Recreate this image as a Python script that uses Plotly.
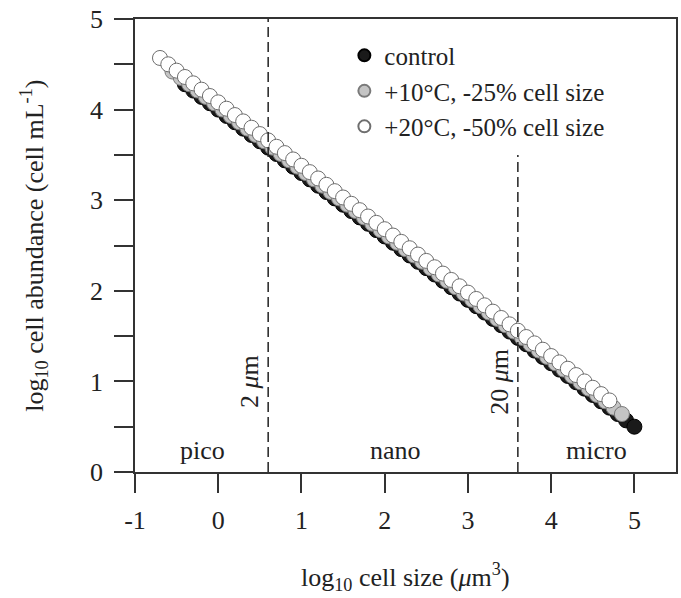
import plotly.graph_objects as go

# ---- data ----
ctrl_x = [-0.4, -0.3, -0.2, -0.1, 0.0, 0.1, 0.2, 0.3, 0.4, 0.5, 0.6, 0.7, 0.8, 0.9, 1.0,
          1.1, 1.2, 1.3, 1.4, 1.5, 1.6, 1.7, 1.8, 1.9, 2.0, 2.1, 2.2, 2.3, 2.4, 2.5,
          2.6, 2.7, 2.8, 2.9, 3.0, 3.1, 3.2, 3.3, 3.4, 3.5, 3.6, 3.7, 3.8, 3.9, 4.0,
          4.1, 4.2, 4.3, 4.4, 4.5, 4.6, 4.7, 4.8, 4.9, 5.0]
ctrl_y = [4.28, 4.21, 4.14, 4.07, 4.00, 3.93, 3.86, 3.79, 3.72, 3.65, 3.58, 3.51, 3.44, 3.37, 3.30,
          3.23, 3.16, 3.09, 3.02, 2.95, 2.88, 2.81, 2.74, 2.67, 2.60, 2.53, 2.46, 2.39, 2.32, 2.25,
          2.18, 2.11, 2.04, 1.97, 1.90, 1.83, 1.76, 1.69, 1.62, 1.55, 1.48, 1.41, 1.34, 1.27, 1.20,
          1.13, 1.06, 0.99, 0.92, 0.85, 0.78, 0.71, 0.64, 0.57, 0.50]

w10_x = [-0.55, -0.45, -0.35, -0.25, -0.15, -0.05, 0.05, 0.15, 0.25, 0.35, 0.45, 0.55, 0.65, 0.75, 0.85,
         0.95, 1.05, 1.15, 1.25, 1.35, 1.45, 1.55, 1.65, 1.75, 1.85, 1.95, 2.05, 2.15, 2.25, 2.35,
         2.45, 2.55, 2.65, 2.75, 2.85, 2.95, 3.05, 3.15, 3.25, 3.35, 3.45, 3.55, 3.65, 3.75, 3.85,
         3.95, 4.05, 4.15, 4.25, 4.35, 4.45, 4.55, 4.65, 4.75, 4.85]
w10_y = [4.42, 4.35, 4.28, 4.21, 4.14, 4.07, 4.00, 3.93, 3.86, 3.79, 3.72, 3.65, 3.58, 3.51, 3.44,
         3.37, 3.30, 3.23, 3.16, 3.09, 3.02, 2.95, 2.88, 2.81, 2.74, 2.67, 2.60, 2.53, 2.46, 2.39,
         2.32, 2.25, 2.18, 2.11, 2.04, 1.97, 1.90, 1.83, 1.76, 1.69, 1.62, 1.55, 1.48, 1.41, 1.34,
         1.27, 1.20, 1.13, 1.06, 0.99, 0.92, 0.85, 0.78, 0.71, 0.64]

w20_x = [-0.7, -0.6, -0.5, -0.4, -0.3, -0.2, -0.1, 0.0, 0.1, 0.2, 0.3, 0.4, 0.5, 0.6, 0.7,
         0.8, 0.9, 1.0, 1.1, 1.2, 1.3, 1.4, 1.5, 1.6, 1.7, 1.8, 1.9, 2.0, 2.1, 2.2,
         2.3, 2.4, 2.5, 2.6, 2.7, 2.8, 2.9, 3.0, 3.1, 3.2, 3.3, 3.4, 3.5, 3.6, 3.7,
         3.8, 3.9, 4.0, 4.1, 4.2, 4.3, 4.4, 4.5, 4.6, 4.7]
w20_y = [4.57, 4.50, 4.43, 4.36, 4.29, 4.22, 4.15, 4.08, 4.01, 3.94, 3.87, 3.80, 3.73, 3.66, 3.59,
         3.52, 3.45, 3.38, 3.31, 3.24, 3.17, 3.10, 3.03, 2.96, 2.89, 2.82, 2.75, 2.68, 2.61, 2.54,
         2.47, 2.40, 2.33, 2.26, 2.19, 2.12, 2.05, 1.98, 1.91, 1.84, 1.77, 1.70, 1.63, 1.56, 1.49,
         1.42, 1.35, 1.28, 1.21, 1.14, 1.07, 1.00, 0.93, 0.86, 0.79]

series_names = ["control", "+10°C, -25% cell size", "+20°C, -50% cell size"]

x_tickvals = [-1, 0, 1, 2, 3, 4, 5]
x_ticktext = ["-1", "0", "1", "2", "3", "4", "5"]
y_tickvals = [0, 1, 2, 3, 4, 5]
y_ticktext = ["0", "1", "2", "3", "4", "5"]

size_bounds = [0.6, 3.6]          # 2 um and 20 um in log10 um^3
bound_tops = [5.0, 3.5]
bound_labels = ["2 <i>μ</i>m", "20 <i>μ</i>m"]
class_labels = ["pico", "nano", "micro"]
class_x = [-0.19, 2.13, 4.55]
class_y = 0.24

FONT = "Liberation Serif"
INK = "#222222"
FS = 26

fig = go.Figure()
fig.add_trace(go.Scatter(x=ctrl_x, y=ctrl_y, mode="markers", name=series_names[0],
                         marker=dict(size=15, color="#1a1a1a", line=dict(color="#000000", width=1))))
fig.add_trace(go.Scatter(x=w10_x, y=w10_y, mode="markers", name=series_names[1],
                         marker=dict(size=15, color="#c4c4c4", line=dict(color="#7a7a7a", width=1))))
fig.add_trace(go.Scatter(x=w20_x, y=w20_y, mode="markers", name=series_names[2],
                         marker=dict(size=15, color="#ffffff", line=dict(color="#6e6e6e", width=1))))

for xb, top in zip(size_bounds, bound_tops):
    fig.add_shape(type="line", x0=xb, x1=xb, y0=0, y1=top, xref="x", yref="y",
                  line=dict(color=INK, width=1.5, dash="10px,5px"))

for xb, lab in zip(size_bounds, bound_labels):
    fig.add_annotation(x=xb, y=1.0, xref="x", yref="y", text=lab, showarrow=False,
                       textangle=-90, xanchor="right", yanchor="middle", xshift=-2,
                       font=dict(family=FONT, size=FS, color=INK))

for cx, lab in zip(class_x, class_labels):
    fig.add_annotation(x=cx, y=class_y, xref="x", yref="y", text=lab, showarrow=False,
                       xanchor="center", yanchor="middle",
                       font=dict(family=FONT, size=FS, color=INK))

# axis titles
fig.add_annotation(x=0.5, y=-0.232, xref="paper", yref="paper",
                   text="log<sub>10</sub> cell size (<i>μ</i>m<sup>3</sup>)", showarrow=False,
                   xanchor="center", yanchor="middle", font=dict(family=FONT, size=FS, color=INK))
fig.add_annotation(x=-0.188, y=0.5, xref="paper", yref="paper", textangle=-90,
                   text="log<sub>10</sub> cell abundance (cell mL<sup>-1</sup>)", showarrow=False,
                   xanchor="center", yanchor="middle", font=dict(family=FONT, size=FS, color=INK))

axis_common = dict(showline=True, linecolor="#333333", linewidth=1.5, mirror=True,
                   ticks="outside", ticklen=19, tickwidth=1.5, tickcolor="#333333",
                   showgrid=False, zeroline=False,
                   tickfont=dict(family=FONT, size=FS, color=INK))

fig.update_xaxes(range=[-1, 5.5], tickvals=x_tickvals, ticktext=x_ticktext,
                 ticklabelstandoff=5, **axis_common)
fig.update_yaxes(range=[0, 5], tickvals=y_tickvals, ticktext=y_ticktext,
                 ticklabelstandoff=6,
                 minor=dict(dtick=0.5, tick0=0, ticks="outside", ticklen=19,
                            tickwidth=1.5, tickcolor="#333333", showgrid=False),
                 **axis_common)

fig.update_layout(
    width=681, height=598,
    margin=dict(l=135, r=3, t=19, b=126),
    paper_bgcolor="white", plot_bgcolor="white",
    font=dict(family=FONT, color=INK),
    legend=dict(x=0.387, y=0.97, xanchor="left", yanchor="top",
                bgcolor="rgba(0,0,0,0)", borderwidth=0, itemsizing="constant",
                font=dict(family=FONT, size=25, color=INK), tracegroupgap=0),
    showlegend=True,
)

fig.write_html("out.html")
